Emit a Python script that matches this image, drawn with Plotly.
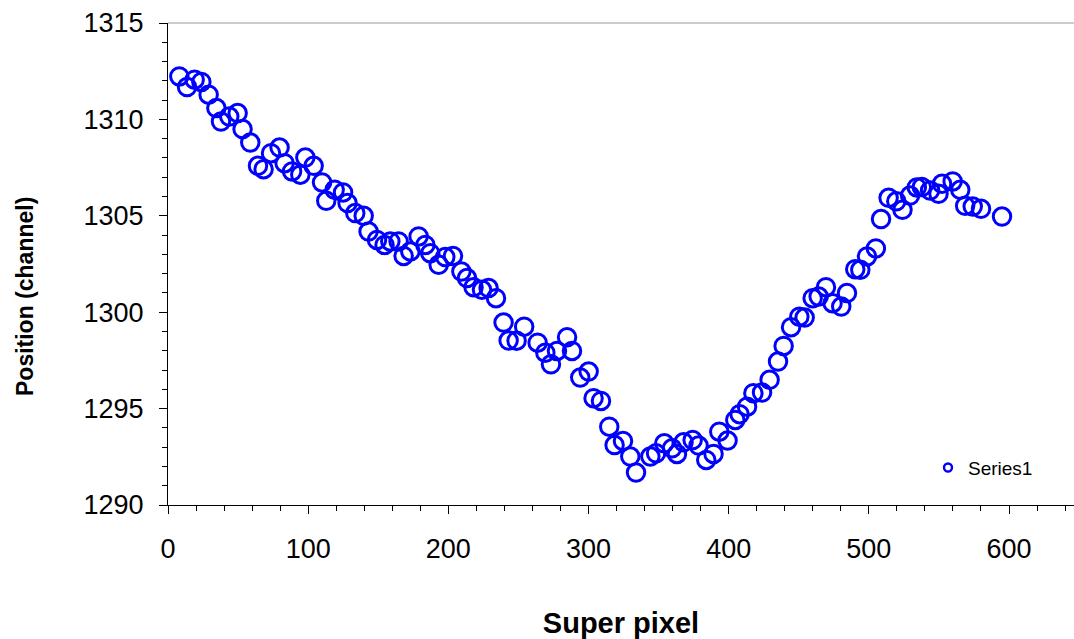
import plotly.graph_objects as go

# Super pixel index (x) and fitted position in channels (y)
super_pixel = [8.1, 13.6, 19.0, 23.8, 29.0, 34.5, 37.8, 43.7, 49.7, 53.2,
               58.7, 64.2, 68.2, 73.5, 79.6, 83.2, 88.5, 94.4, 98.0, 103.9,
               109.9, 112.9, 118.9, 124.9, 128.1, 133.6, 139.6, 143.1, 149.1, 154.5,
               158.6, 164.5, 168.1, 172.9, 178.8, 183.6, 187.1, 193.1, 197.8, 203.3,
               209.3, 213.3, 218.0, 224.0, 228.7, 234.0, 239.4, 243.0, 248.7, 254.1,
               263.7, 269.2, 273.2, 277.5, 284.7, 288.2, 294.1, 300.1, 303.6, 308.9,
               314.8, 318.6, 324.6, 329.8, 333.9, 344.1, 348.2, 354.1, 359.6, 363.1,
               367.8, 374.3, 378.5, 384.0, 389.2, 393.3, 399.2, 404.7, 407.8, 413.1,
               417.6, 423.8, 429.2, 435.2, 439.2, 444.5, 450.4, 454.2, 459.9, 464.2,
               469.4, 474.1, 480.3, 484.4, 490.3, 493.9, 498.7, 505.0, 508.7, 514.1,
               519.6, 524.0, 529.4, 534.2, 537.8, 543.7, 549.7, 552.2, 559.8, 565.2,
               568.7, 574.1, 580.0, 595.0]
position = [1312.23, 1311.68, 1312.06, 1311.94, 1311.28, 1310.59, 1309.89, 1310.15, 1310.33, 1309.50,
            1308.80, 1307.59, 1307.42, 1308.25, 1308.54, 1307.73, 1307.30, 1307.13, 1308.02, 1307.59,
            1306.73, 1305.78, 1306.35, 1306.21, 1305.66, 1305.14, 1305.00, 1304.18, 1303.75, 1303.49,
            1303.67, 1303.67, 1302.92, 1303.15, 1303.93, 1303.49, 1303.06, 1302.46, 1302.86, 1302.92,
            1302.11, 1301.77, 1301.30, 1301.16, 1301.25, 1300.73, 1299.46, 1298.53, 1298.52, 1299.25,
            1298.42, 1297.90, 1297.30, 1297.99, 1298.70, 1297.99, 1296.61, 1296.92, 1295.54, 1295.40,
            1294.06, 1293.11, 1293.32, 1292.51, 1291.68, 1292.51, 1292.68, 1293.20, 1292.94, 1292.65,
            1293.25, 1293.37, 1293.08, 1292.34, 1292.65, 1293.80, 1293.34, 1294.41, 1294.71, 1295.10,
            1295.80, 1295.83, 1296.49, 1297.44, 1298.25, 1299.22, 1299.77, 1299.72, 1300.73, 1300.81,
            1301.30, 1300.47, 1300.29, 1300.99, 1302.23, 1302.20, 1302.89, 1303.31, 1304.83, 1305.93,
            1305.75, 1305.31, 1306.05, 1306.47, 1306.49, 1306.31, 1306.14, 1306.66, 1306.78, 1306.35,
            1305.52, 1305.48, 1305.36, 1304.96]

series_name = "Series1"
x_title = "Super pixel"
y_title = "Position (channel)"
x_ticks = [0, 100, 200, 300, 400, 500, 600]
y_ticks = [1290, 1295, 1300, 1305, 1310, 1315]

BLUE = "#0000FF"
W, H = 1074, 639
L, R, T, B = 168, 0, 23, 134
PW, PH = W - L - R, H - T - B
FONT = "Liberation Sans, Arial, sans-serif"

fig = go.Figure()
fig.add_trace(go.Scatter(
    x=super_pixel, y=position, mode="markers", showlegend=False,
    marker=dict(symbol="circle-open", size=17.5, color=BLUE, line=dict(width=3, color=BLUE)),
    cliponaxis=False,
))
# legend entry (small marker as in the reference)
fig.add_trace(go.Scatter(
    x=[None], y=[None], mode="markers", name=series_name,
    marker=dict(symbol="circle-open", size=8, color=BLUE, line=dict(width=2.4, color=BLUE)),
))

x_px_per_unit = 1.4017
x_max = PW / x_px_per_unit

axis_common = dict(
    showline=True, linecolor="black", linewidth=1,
    ticks="outside", ticklen=8, tickwidth=1, tickcolor="black",
    showgrid=False, zeroline=False,
    tickfont=dict(family=FONT, size=27, color="black"),
)

fig.update_layout(
    width=W, height=H,
    margin=dict(l=L, r=R, t=T, b=B, pad=0),
    paper_bgcolor="white", plot_bgcolor="white",
    xaxis=dict(
        range=[0, x_max], tickvals=x_ticks,
        minor=dict(dtick=20, tick0=0, ticks="outside", ticklen=5, tickcolor="black", tickwidth=1),
        title=dict(text="<b>" + x_title + "</b>", standoff=50,
                   font=dict(family=FONT, size=29, color="black")),
        ticklabelstandoff=12,
        **axis_common,
    ),
    yaxis=dict(
        range=[1290, 1315], tickvals=y_ticks,
        minor=dict(dtick=1, tick0=1290, ticks="outside", ticklen=5, tickcolor="black", tickwidth=1),
        ticklabelstandoff=10,
        **axis_common,
    ),
    legend=dict(
        x=(928 - L) / PW, y=(505 - 467.7) / PH, xanchor="left", yanchor="middle",
        bgcolor="rgba(0,0,0,0)", borderwidth=0, itemwidth=30,
        font=dict(family=FONT, size=19, color="black"),
    ),
    annotations=[dict(
        text="<b>" + y_title + "</b>", textangle=-90, showarrow=False,
        xref="paper", yref="paper", x=(25 - L) / PW, y=(505 - 297) / PH,
        xanchor="center", yanchor="middle",
        font=dict(family=FONT, size=23, color="black"),
    )],
    shapes=[dict(type="line", xref="paper", yref="paper", x0=0, x1=1, y0=1, y1=1,
                 line=dict(color="#9a9a9a", width=1))],
)

fig.write_html("out.html")
